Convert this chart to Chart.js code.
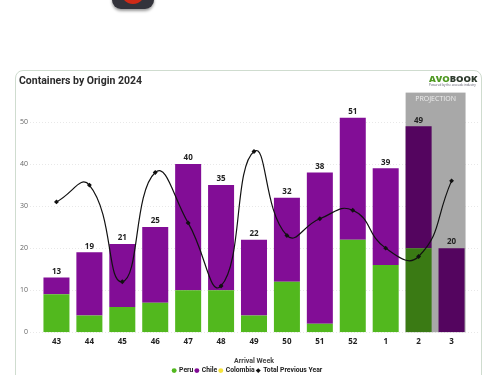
<!DOCTYPE html>
<html>
<head>
<meta charset="utf-8">
<script src="https://cdn.jsdelivr.net/npm/chart.js@4"></script>
<style>
    html, body { margin: 0; padding: 0; width: 500px; height: 375px; overflow: hidden; background: #fff; font-family: "Open Sans", sans-serif; }
    #icon { position: absolute; left: 112px; top: -30px; width: 42px; height: 39px; background: #33333b; border-radius: 9px; box-shadow: 0 2px 3px rgba(0,0,0,.4); }
    #icon div { position: absolute; left: 8px; top: 5px; width: 26px; height: 29px; background: #cf2a17; border-radius: 50%; }
    #card { position: absolute; left: 15px; top: 70px; width: 465px; height: 330px; border: 1px solid #cfdccf; border-radius: 8px; }
    #logo { position: absolute; left: 429px; top: 74px; font: 800 9.4px "Open Sans", sans-serif; color: #2c3a2c; line-height: 10px; }
    #logo span { color: #4f9a22; }
    #logo small { display: block; font: 400 3px "Open Sans", sans-serif; color: #556; line-height: 3px; white-space: nowrap; }
    #wrap { position: absolute; left: 15px; top: 70px; width: 466px; height: 314px; }
</style>
</head>
<body>
<div id="icon"><div></div></div>
<div id="card"></div>
<div id="wrap"><canvas id="chart"></canvas></div>
<div id="logo"><span>AVO</span>BOOK<small>Powered by the avocado industry</small></div>
<script>
const weeks = ['43', '44', '45', '46', '47', '48', '49', '50', '51', '52', '1', '2', '3'];
const peru = [9, 4, 6, 7, 10, 10, 4, 12, 2, 22, 16, 20, 0];
const chile = [4, 15, 15, 18, 30, 25, 18, 20, 36, 29, 23, 29, 20];
const colombia = [0, 0, 0, 0, 0, 0, 0, 0, 0, 0, 0, 0, 0];
const previousYear = [31, 35, 12, 38, 26, 11, 43, 23, 27, 29, 20, 18, 36];
const projectedWeeks = ['2', '3'];

const GREEN = '#52b81e', GREEN_DARK = '#3a7a14';
const PURPLE = '#820d96', PURPLE_DARK = '#54055f';
const YELLOW = '#f5e33b', BLACK = '#111111';

const isProjected = (i) => projectedWeeks.includes(weeks[i]);
const barColors = (normal, dark) => weeks.map((w, i) => isProjected(i) ? dark : normal);

// Grey projection band and the faint grid lines, behind the bars
const backdrop = {
    id: 'backdrop',
    // legend is centred on the card, not on the padded area
    afterLayout(chart) {
        chart.legend.left += 4;
        chart.legend.right += 4;
    },
    beforeDatasetsDraw(chart) {
        const { ctx, scales: { x, y }, chartArea } = chart;
        const half = chart.getDatasetMeta(1).data[0].width / 2;
        const left = x.getPixelForValue(weeks.indexOf(projectedWeeks[0])) - half;
        const right = x.getPixelForValue(weeks.indexOf(projectedWeeks[1])) + half + 1;
        ctx.save();
        ctx.strokeStyle = '#e8e8e8';
        ctx.lineWidth = 1;
        ctx.setLineDash([1, 2]);
        [0, 10, 20, 30, 40, 50].forEach(v => {
            const py = Math.round(y.getPixelForValue(v)) + 0.5;
            ctx.beginPath();
            ctx.moveTo(chartArea.left - 10, py);
            ctx.lineTo(chartArea.right + 10, py);
            ctx.stroke();
        });
        ctx.fillStyle = '#a8a8a8';
        ctx.fillRect(left, chartArea.top, right - left, chartArea.bottom - chartArea.top);
        ctx.fillStyle = '#eeeeee';
        ctx.font = '7px "Open Sans"';
        ctx.textAlign = 'center';
        ctx.textBaseline = 'middle';
        ctx.fillText('PROJECTION', (left + right) / 2, chartArea.top + 6);
        ctx.restore();
    }
};

// Total on top of each stacked bar
const totals = {
    id: 'totals',
    afterDatasetsDraw(chart) {
        const { ctx, scales: { x, y } } = chart;
        ctx.save();
        ctx.fillStyle = '#222222';
        ctx.font = 'bold 8px "Open Sans"';
        ctx.textAlign = 'center';
        ctx.textBaseline = 'bottom';
        weeks.forEach((w, i) => {
            const total = peru[i] + chile[i] + colombia[i];
            ctx.fillText(total, x.getPixelForValue(i), y.getPixelForValue(total) - 2);
        });
        ctx.restore();
    }
};

new Chart(document.getElementById('chart'), {
    type: 'bar',
    plugins: [backdrop, totals],
    data: {
        labels: weeks,
        datasets: [
            {
                type: 'line',
                label: 'Total Previous Year',
                data: previousYear,
                borderColor: BLACK,
                backgroundColor: BLACK,
                borderWidth: 1.2,
                pointStyle: 'rectRot',
                pointRadius: 1.6,
                tension: 0.5,
                order: 0,
            },
            { label: 'Peru', data: peru, backgroundColor: barColors(GREEN, GREEN_DARK), stack: 'a', order: 1 },
            { label: 'Chile', data: chile, backgroundColor: barColors(PURPLE, PURPLE_DARK), stack: 'a', order: 1 },
            { label: 'Colombia', data: colombia, backgroundColor: YELLOW, stack: 'a', order: 1 },
        ],
    },
    options: {
        responsive: true,
        maintainAspectRatio: false,
        animation: false,
        layout: { padding: { left: 4, right: 13, top: 0, bottom: 0 } },
        datasets: { bar: { categoryPercentage: 0.79, barPercentage: 1 } },
        scales: {
            x: {
                stacked: true,
                grid: { display: false, drawTicks: false },
                border: { display: false },
                ticks: { color: '#222222', font: { family: 'Open Sans', size: 8, weight: 'bold' }, padding: 5 },
                title: { display: true, text: 'Arrival Week', color: '#444444', font: { family: 'Roboto', size: 7, weight: 'bold' }, padding: { top: 5, bottom: 0 } },
            },
            y: {
                stacked: true,
                min: 0,
                max: 57,
                grid: { display: false },
                border: { display: false },
                afterFit: (axis) => { axis.width = 21; },
                ticks: { stepSize: 10, includeBounds: false, color: '#666666', font: { family: 'Open Sans', size: 7 }, padding: 4 },
            },
        },
        plugins: {
            title: {
                display: true,
                text: 'Containers by Origin 2024',
                align: 'start',
                color: '#2b2b2b',
                font: { family: 'Roboto', size: 10.5, weight: 'bold' },
                padding: { top: 5, bottom: 5 },
            },
            legend: {
                position: 'bottom',
                labels: {
                    usePointStyle: true,
                    boxWidth: 3,
                    boxHeight: 3.5,
                    padding: 2,
                    color: '#222222',
                    font: { family: 'Roboto', size: 6.8, weight: 'bold' },
                    // line dataset comes first in the data but last in the legend
                    sort: (a, b) => (a.text === 'Total Previous Year') - (b.text === 'Total Previous Year'),
                    generateLabels(chart) {
                        const colors = { 'Peru': GREEN, 'Chile': PURPLE, 'Colombia': YELLOW, 'Total Previous Year': BLACK };
                        return chart.data.datasets.map((d, i) => ({
                            text: d.label,
                            fillStyle: colors[d.label],
                            strokeStyle: colors[d.label],
                            lineWidth: 0,
                            pointStyle: d.type === 'line' ? 'rectRot' : 'circle',
                            fontColor: '#222222',
                            datasetIndex: i,
                        }));
                    },
                },
            },
            tooltip: { enabled: false },
        },
    },
});
</script>
</body>
</html>
